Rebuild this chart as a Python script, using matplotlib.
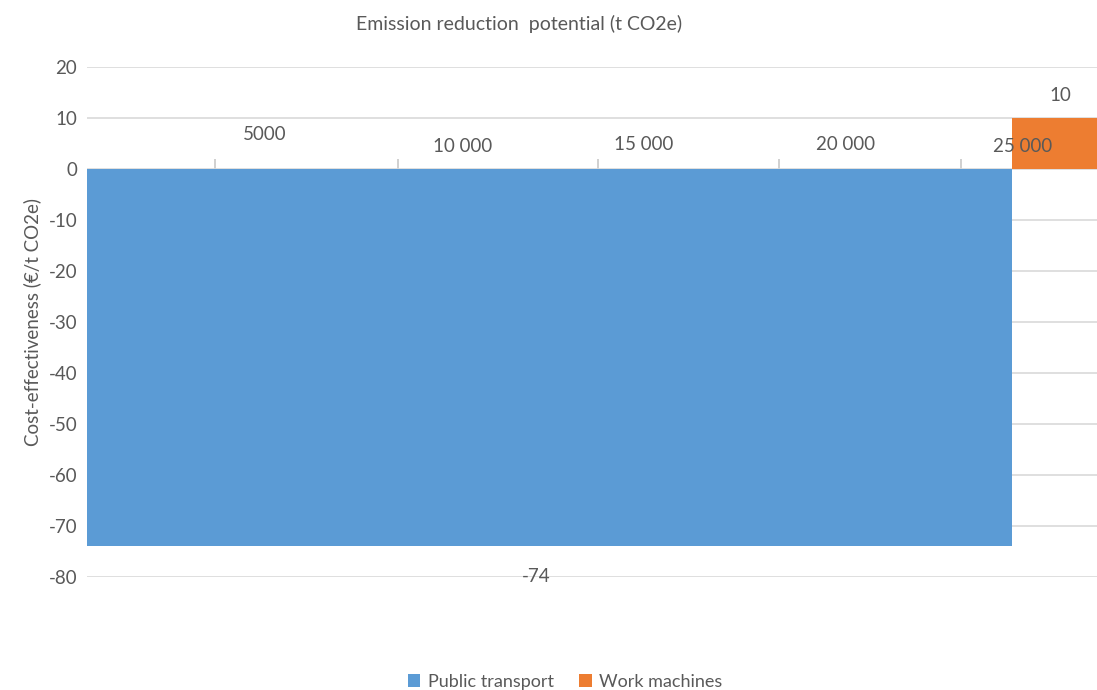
import numpy as np
import matplotlib
matplotlib.use("Agg")
import matplotlib.pyplot as plt
from matplotlib.patches import Patch

plt.rcParams["font.family"] = ["Lato", "DejaVu Sans"]
plt.rcParams["axes.unicode_minus"] = False

# measures, their abatement potential (t CO2e) and cost (EUR / t CO2e)
measures = ["Public transport", "Work machines"]
potential = [25000, 2500]
cost = [-74, 10]
colors = ["#5B9BD5", "#ED7D31"]

x_labels = ["5000", "10 000", "15 000", "20 000", "25 000"]
x_label_vals = [4800, 10150, 15050, 20500, 25300]
x_label_dy = [3.6, 1.2, 1.7, 1.7, 1.2]
x_tick_vals = [3460, 8400, 13800, 18700, 23620]
y_ticks = list(range(-80, 21, 10))

TXT = "#595959"
GRID = "#d9d9d9"
FS = 13.5

fig = plt.figure(figsize=(10.97, 6.90), dpi=100)
ax = fig.add_axes([0.0793, 0.1638, 0.9207, 0.7391])

left = np.concatenate([[0], np.cumsum(potential)[:-1]])
ax.bar(left, cost, width=potential, align="edge", color=colors, zorder=2)

ax.set_xlim(0, 27300)
ax.set_ylim(-80, 20)
ax.set_yticks(y_ticks)
ax.yaxis.grid(True, color=GRID, lw=1.2, zorder=0)
ax.set_axisbelow(True)
for s in ["left", "right", "top"]:
    ax.spines[s].set_visible(False)
ax.spines["bottom"].set_position(("data", 0))
ax.spines["bottom"].set_visible(False)

ax.set_xticks(x_tick_vals)
ax.tick_params(axis="x", direction="in", length=7, width=1.2, color="#c8c8c8",
               labelbottom=False, pad=0)
ax.tick_params(axis="y", length=0, pad=7, labelsize=FS, labelcolor=TXT)

for lab, xv, dy in zip(x_labels, x_label_vals, x_label_dy):
    ax.text(xv, dy + 1.5, lab, ha="center", va="bottom", fontsize=FS, color=TXT)

# value labels for each bar
for l, w, c in zip(left, potential, cost):
    if c < 0:
        ax.text(l + 12150, c - 6.0, f"{c}", ha="center", va="center",
                fontsize=FS, color=TXT, clip_on=False)
    else:
        ax.text(l + 1300, c + 4.5, f"{c}", ha="center", va="center",
                fontsize=FS, color=TXT, clip_on=False)

ax.set_ylabel("Cost-effectiveness (€/t CO2e)", fontsize=13.5, color=TXT, labelpad=5)
fig.text(0.473, 0.965, "Emission reduction  potential (t CO2e)", ha="center",
         va="center", fontsize=14, color=TXT)

handles = [Patch(facecolor=c, edgecolor="none") for c in colors]
fig.legend(handles, measures, loc="center", bbox_to_anchor=(0.515, 0.012),
           ncol=2, frameon=False, fontsize=13, labelcolor=TXT,
           handlelength=0.7, handleheight=0.7, handletextpad=0.4,
           columnspacing=1.4)

fig.savefig("out.png", dpi=100)
